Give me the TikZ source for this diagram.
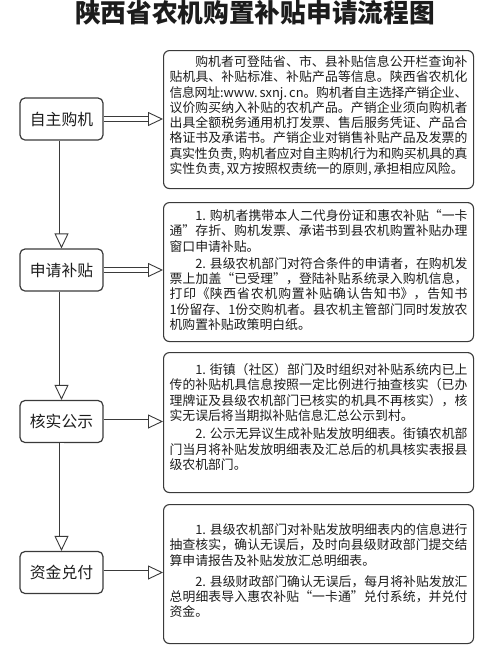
\documentclass[tikz,border=0pt]{standalone}
\usepackage{fontspec}
\setmainfont{Noto Sans CJK SC}
\usetikzlibrary{arrows.meta,positioning}
\XeTeXlinebreaklocale "zh"
\XeTeXlinebreakskip=0pt plus 2pt minus 1pt
\definecolor{flowgray}{RGB}{58,58,58}
\definecolor{flowtext}{RGB}{28,28,28}
\newcommand\steptext[4]{\parbox[t][#1pt][t]{298pt}{\setlength\parindent{2em}\setlength\parskip{#3pt}\vspace*{#2pt}#4}}

\begin{document}
\begin{tikzpicture}[x=1pt, y=-1pt,
  lstep/.style={draw=flowgray, line width=1.2pt, rounded corners=5pt, minimum width=83pt, minimum height=42pt, inner sep=0pt, text=flowtext, font=\fontsize{15.8pt}{18pt}\selectfont},
  rbox/.style={draw=flowgray, line width=1.1pt, rounded corners=6pt, anchor=north west, inner xsep=6pt, inner ysep=0pt, text=flowtext, font=\fontsize{12.85pt}{15.3pt}\selectfont},
  arr/.style={draw=flowgray, line width=0.9pt, double=white, double distance=4pt, -{Triangle[open, fill=white, length=15pt, width=14pt]}}]
\useasboundingbox (0,0) rectangle (500,667);
\node[anchor=base, text=flowtext, font=\fontsize{25.7pt}{28pt}\selectfont\bfseries] (title) at (255,22) {陕西省农机购置补贴申请流程图};
\node[lstep] (buy) at (61.5,119) {自主购机};
\node[lstep] (apply) at (61.5,270) {申请补贴};
\node[lstep] (check) at (61.5,421.5) {核实公示};
\node[lstep] (pay) at (61.5,572.5) {资金兑付};
\node[rbox] (buyinfo) at (163,50) {\steptext{138}{5}{0}{购机者可登陆省、市、县补贴信息公开栏查询补\linebreak
贴机具、补贴标准、补贴产品等信息。陕西省农机化\linebreak
信息网址:www.\,sxnj.\,cn。购机者自主选择产销企业、\linebreak
议价购买纳入补贴的农机产品。产销企业须向购机者\linebreak
出具全额税务通用机打发票、售后服务凭证、产品合\linebreak
格证书及承诺书。产销企业对销售补贴产品及发票的\linebreak
真实性负责,\,购机者应对自主购机行为和购买机具的真\linebreak
实性负责,\,双方按照权责统一的原则,\,承担相应风险。}};
\node[rbox] (applyinfo) at (163,202) {\steptext{139}{5}{2}{1. 购机者携带本人二代身份证和惠农补贴“一卡\linebreak
通”存折、购机发票、承诺书到县农机购置补贴办理\linebreak
窗口申请补贴。\par
2. 县级农机部门对符合条件的申请者，在购机发\linebreak
票上加盖“已受理”，登陆补贴系统录入购机信息，\linebreak
打印《陕西省农机购置补贴确认告知书》，告知书\linebreak
1份留存、1份交购机者。县农机主管部门同时发放农\linebreak
机购置补贴政策明白纸。}};
\node[rbox] (checkinfo) at (163,352) {\steptext{140}{8}{3}{1. 街镇（社区）部门及时组织对补贴系统内已上\linebreak
传的补贴机具信息按照一定比例进行抽查核实（已办\linebreak
理牌证及县级农机部门已核实的机具不再核实），核\linebreak
实无误后将当期拟补贴信息汇总公示到村。\par
2. 公示无异议生成补贴发放明细表。街镇农机部\linebreak
门当月将补贴发放明细表及汇总后的机具核实表报县\linebreak
级农机部门。}};
\node[rbox] (payinfo) at (163,504) {\steptext{139}{13}{6}{1. 县级农机部门对补贴发放明细表内的信息进行\linebreak
抽查核实，确认无误后，及时向县级财政部门提交结\linebreak
算申请报告及补贴发放汇总明细表。\par
2. 县级财政部门确认无误后，每月将补贴发放汇\linebreak
总明细表导入惠农补贴“一卡通”兑付系统，并兑付\linebreak
资金。}};
\draw[arr] (buy) -- (apply); \draw[arr] (apply) -- (check); \draw[arr] (check) -- (pay);
\draw[arr] (buy) -- (buy -| buyinfo.west); \draw[arr] (apply) -- (apply -| applyinfo.west);
\draw[arr] (check) -- (check -| checkinfo.west); \draw[arr] (pay) -- (pay -| payinfo.west);
\end{tikzpicture}
\end{document}
